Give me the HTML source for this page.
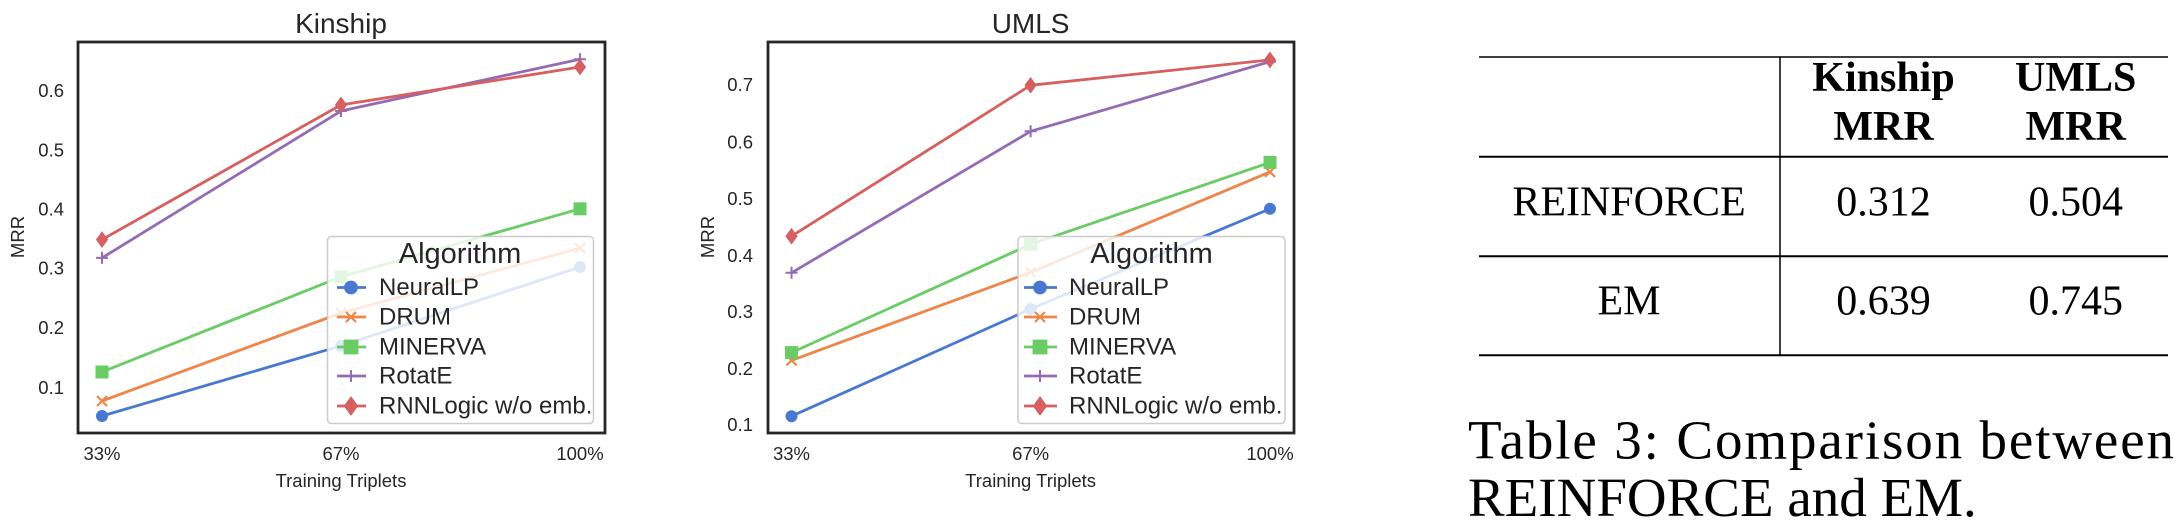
<!DOCTYPE html>
<html><head><meta charset="utf-8"><style>
html,body{margin:0;padding:0;background:#fff;}
svg{display:block}
.a{font-family:"Liberation Sans",Arial,sans-serif;fill:#262626}
.t{font-family:"Liberation Serif","Times New Roman",serif;fill:#000}
</style></head><body>
<svg width="2180" height="528" viewBox="0 0 2180 528" xmlns="http://www.w3.org/2000/svg">
<defs>
<g id="mo"><circle r="5.5"/></g>
<g id="mx"><path d="M-5,-5L5,5M-5,5L5,-5" stroke-width="2.2" fill="none"/></g>
<g id="ms"><rect x="-6" y="-6" width="12" height="12"/></g>
<g id="mp"><path d="M-6,0H6M0,-6V6" stroke-width="2" fill="none"/></g>
<g id="md"><path d="M0,-7.5L5.5,0L0,7.5L-5.5,0Z"/></g>
</defs>

<!-- ================= Kinship ================= -->
<text class="a" x="341" y="33" font-size="28" text-anchor="middle">Kinship</text>
<g fill="none" stroke-width="2.8" stroke-linejoin="round">
<polyline stroke="#4878d0" points="102,416 341,345.8 580,267"/>
<polyline stroke="#ee854a" points="102,401 341,313 580,248"/>
<polyline stroke="#6acc64" points="102,372 341,276.8 580,208.8"/>
<polyline stroke="#956cb4" points="102,257.9 341,111 580,59.2"/>
<polyline stroke="#d65f5f" points="102,239.6 341,104.9 580,67"/>
</g>
<g fill="#4878d0" stroke="#4878d0"><use href="#mo" x="102" y="416"/><use href="#mo" x="341" y="345.8"/><use href="#mo" x="580" y="267"/></g>
<g fill="#ee854a" stroke="#ee854a"><use href="#mx" x="102" y="401"/><use href="#mx" x="341" y="313"/><use href="#mx" x="580" y="248"/></g>
<g fill="#6acc64" stroke="#6acc64"><use href="#ms" x="102" y="372"/><use href="#ms" x="341" y="276.8"/><use href="#ms" x="580" y="208.8"/></g>
<g fill="#956cb4" stroke="#956cb4"><use href="#mp" x="102" y="257.9"/><use href="#mp" x="341" y="111"/><use href="#mp" x="580" y="59.2"/></g>
<g fill="#d65f5f" stroke="#d65f5f"><use href="#md" x="102" y="239.6"/><use href="#md" x="341" y="104.9"/><use href="#md" x="580" y="67"/></g>
<!-- legend -->
<rect x="327.5" y="236.5" width="266" height="187" rx="4" fill="#fff" fill-opacity="0.82" stroke="#cccccc" stroke-width="1.5"/>
<text class="a" x="460" y="263" font-size="29" text-anchor="middle">Algorithm</text>
<g stroke-width="2.8">
<line x1="337" x2="366" y1="287.5" y2="287.5" stroke="#4878d0"/><use href="#mo" x="351" y="287.5" fill="#4878d0" stroke="#4878d0"/>
<line x1="337" x2="366" y1="317" y2="317" stroke="#ee854a"/><use href="#mx" x="351" y="317" fill="#ee854a" stroke="#ee854a"/>
<line x1="337" x2="366" y1="347" y2="347" stroke="#6acc64"/><use href="#ms" x="351" y="347" fill="#6acc64" stroke="#6acc64"/>
<line x1="337" x2="366" y1="376" y2="376" stroke="#956cb4"/><use href="#mp" x="351" y="376" fill="#956cb4" stroke="#956cb4"/>
<line x1="337" x2="366" y1="406" y2="406" stroke="#d65f5f"/><use href="#md" x="351" y="406" fill="#d65f5f" stroke="#d65f5f"/>
</g>
<g class="a" font-size="24">
<text x="379" y="295">NeuralLP</text>
<text x="379" y="324.5">DRUM</text>
<text x="379" y="354.5">MINERVA</text>
<text x="379" y="383.5">RotatE</text>
<text x="379" y="413.5">RNNLogic w/o emb.</text>
</g>
<rect x="78" y="42" width="527" height="391" fill="none" stroke="#262626" stroke-width="2.8"/>
<g class="a" font-size="18.5" text-anchor="end">
<text x="64" y="97">0.6</text><text x="64" y="156.5">0.5</text><text x="64" y="215.5">0.4</text>
<text x="64" y="274.5">0.3</text><text x="64" y="334">0.2</text><text x="64" y="394">0.1</text>
</g>
<g class="a" font-size="18.5" text-anchor="middle">
<text x="102" y="460">33%</text><text x="341" y="460">67%</text><text x="580" y="460">100%</text>
<text x="341" y="487">Training Triplets</text>
</g>
<text class="a" font-size="18.5" text-anchor="middle" transform="translate(24,237) rotate(-90)">MRR</text>

<!-- ================= UMLS ================= -->
<text class="a" x="1030.6" y="33" font-size="28" text-anchor="middle">UMLS</text>
<g fill="none" stroke-width="2.8" stroke-linejoin="round">
<polyline stroke="#4878d0" points="791.5,416.2 1030.6,309 1270,208.8"/>
<polyline stroke="#ee854a" points="791.5,360.4 1030.6,272.4 1270,171.9"/>
<polyline stroke="#6acc64" points="791.5,352.6 1030.6,244.3 1270,162.4"/>
<polyline stroke="#956cb4" points="791.5,272.8 1030.6,131.3 1270,61.6"/>
<polyline stroke="#d65f5f" points="791.5,236.2 1030.6,85.3 1270,59.9"/>
</g>
<g fill="#4878d0" stroke="#4878d0"><use href="#mo" x="791.5" y="416.2"/><use href="#mo" x="1030.6" y="309"/><use href="#mo" x="1270" y="208.8"/></g>
<g fill="#ee854a" stroke="#ee854a"><use href="#mx" x="791.5" y="360.4"/><use href="#mx" x="1030.6" y="272.4"/><use href="#mx" x="1270" y="171.9"/></g>
<g fill="#6acc64" stroke="#6acc64"><use href="#ms" x="791.5" y="352.6"/><use href="#ms" x="1030.6" y="244.3"/><use href="#ms" x="1270" y="162.4"/></g>
<g fill="#956cb4" stroke="#956cb4"><use href="#mp" x="791.5" y="272.8"/><use href="#mp" x="1030.6" y="131.3"/><use href="#mp" x="1270" y="61.6"/></g>
<g fill="#d65f5f" stroke="#d65f5f"><use href="#md" x="791.5" y="236.2"/><use href="#md" x="1030.6" y="85.3"/><use href="#md" x="1270" y="59.9"/></g>
<rect x="1018" y="236.5" width="267" height="187" rx="4" fill="#fff" fill-opacity="0.82" stroke="#cccccc" stroke-width="1.5"/>
<text class="a" x="1151.5" y="263" font-size="29" text-anchor="middle">Algorithm</text>
<g stroke-width="2.8">
<line x1="1024" x2="1057" y1="287.5" y2="287.5" stroke="#4878d0"/><use href="#mo" x="1040" y="287.5" fill="#4878d0" stroke="#4878d0"/>
<line x1="1024" x2="1057" y1="317" y2="317" stroke="#ee854a"/><use href="#mx" x="1040" y="317" fill="#ee854a" stroke="#ee854a"/>
<line x1="1024" x2="1057" y1="347" y2="347" stroke="#6acc64"/><use href="#ms" x="1040" y="347" fill="#6acc64" stroke="#6acc64"/>
<line x1="1024" x2="1057" y1="376" y2="376" stroke="#956cb4"/><use href="#mp" x="1040" y="376" fill="#956cb4" stroke="#956cb4"/>
<line x1="1024" x2="1057" y1="406" y2="406" stroke="#d65f5f"/><use href="#md" x="1040" y="406" fill="#d65f5f" stroke="#d65f5f"/>
</g>
<g class="a" font-size="24">
<text x="1069" y="295">NeuralLP</text>
<text x="1069" y="324.5">DRUM</text>
<text x="1069" y="354.5">MINERVA</text>
<text x="1069" y="383.5">RotatE</text>
<text x="1069" y="413.5">RNNLogic w/o emb.</text>
</g>
<rect x="768" y="42" width="526" height="391" fill="none" stroke="#262626" stroke-width="2.8"/>
<g class="a" font-size="18.5" text-anchor="end">
<text x="753" y="91">0.7</text><text x="753" y="148.5">0.6</text><text x="753" y="205">0.5</text>
<text x="753" y="262">0.4</text><text x="753" y="318">0.3</text><text x="753" y="375">0.2</text><text x="753" y="431">0.1</text>
</g>
<g class="a" font-size="18.5" text-anchor="middle">
<text x="791.5" y="460">33%</text><text x="1030.6" y="460">67%</text><text x="1270" y="460">100%</text>
<text x="1030.6" y="487">Training Triplets</text>
</g>
<text class="a" font-size="18.5" text-anchor="middle" transform="translate(714,237) rotate(-90)">MRR</text>

<!-- ================= Table ================= -->
<g stroke="#000">
<line x1="1479" x2="2168" y1="57" y2="57" stroke-width="1.5"/>
<line x1="1479" x2="2168" y1="156.7" y2="156.7" stroke-width="2"/>
<line x1="1479" x2="2168" y1="256.2" y2="256.2" stroke-width="2"/>
<line x1="1479" x2="2168" y1="355.3" y2="355.3" stroke-width="2"/>
<line x1="1780" x2="1780" y1="57" y2="355.3" stroke-width="1.5"/>
</g>
<g class="t" font-size="42" text-anchor="middle">
<text x="1883.5" y="91" font-weight="bold">Kinship</text>
<text x="1883.5" y="140" font-weight="bold">MRR</text>
<text x="2075.7" y="91" font-weight="bold">UMLS</text>
<text x="2075.7" y="140" font-weight="bold">MRR</text>
<text x="1629" y="215.6">REINFORCE</text>
<text x="1883.5" y="215.6">0.312</text>
<text x="2075.7" y="215.6">0.504</text>
<text x="1629" y="314.7">EM</text>
<text x="1883.5" y="314.7">0.639</text>
<text x="2075.7" y="314.7">0.745</text>
</g>
<g class="t" font-size="55">
<text x="1468" y="458.5" textLength="706" lengthAdjust="spacing">Table 3:  Comparison between</text>
<text x="1468" y="516">REINFORCE and EM.</text>
</g>
</svg>
</body></html>
